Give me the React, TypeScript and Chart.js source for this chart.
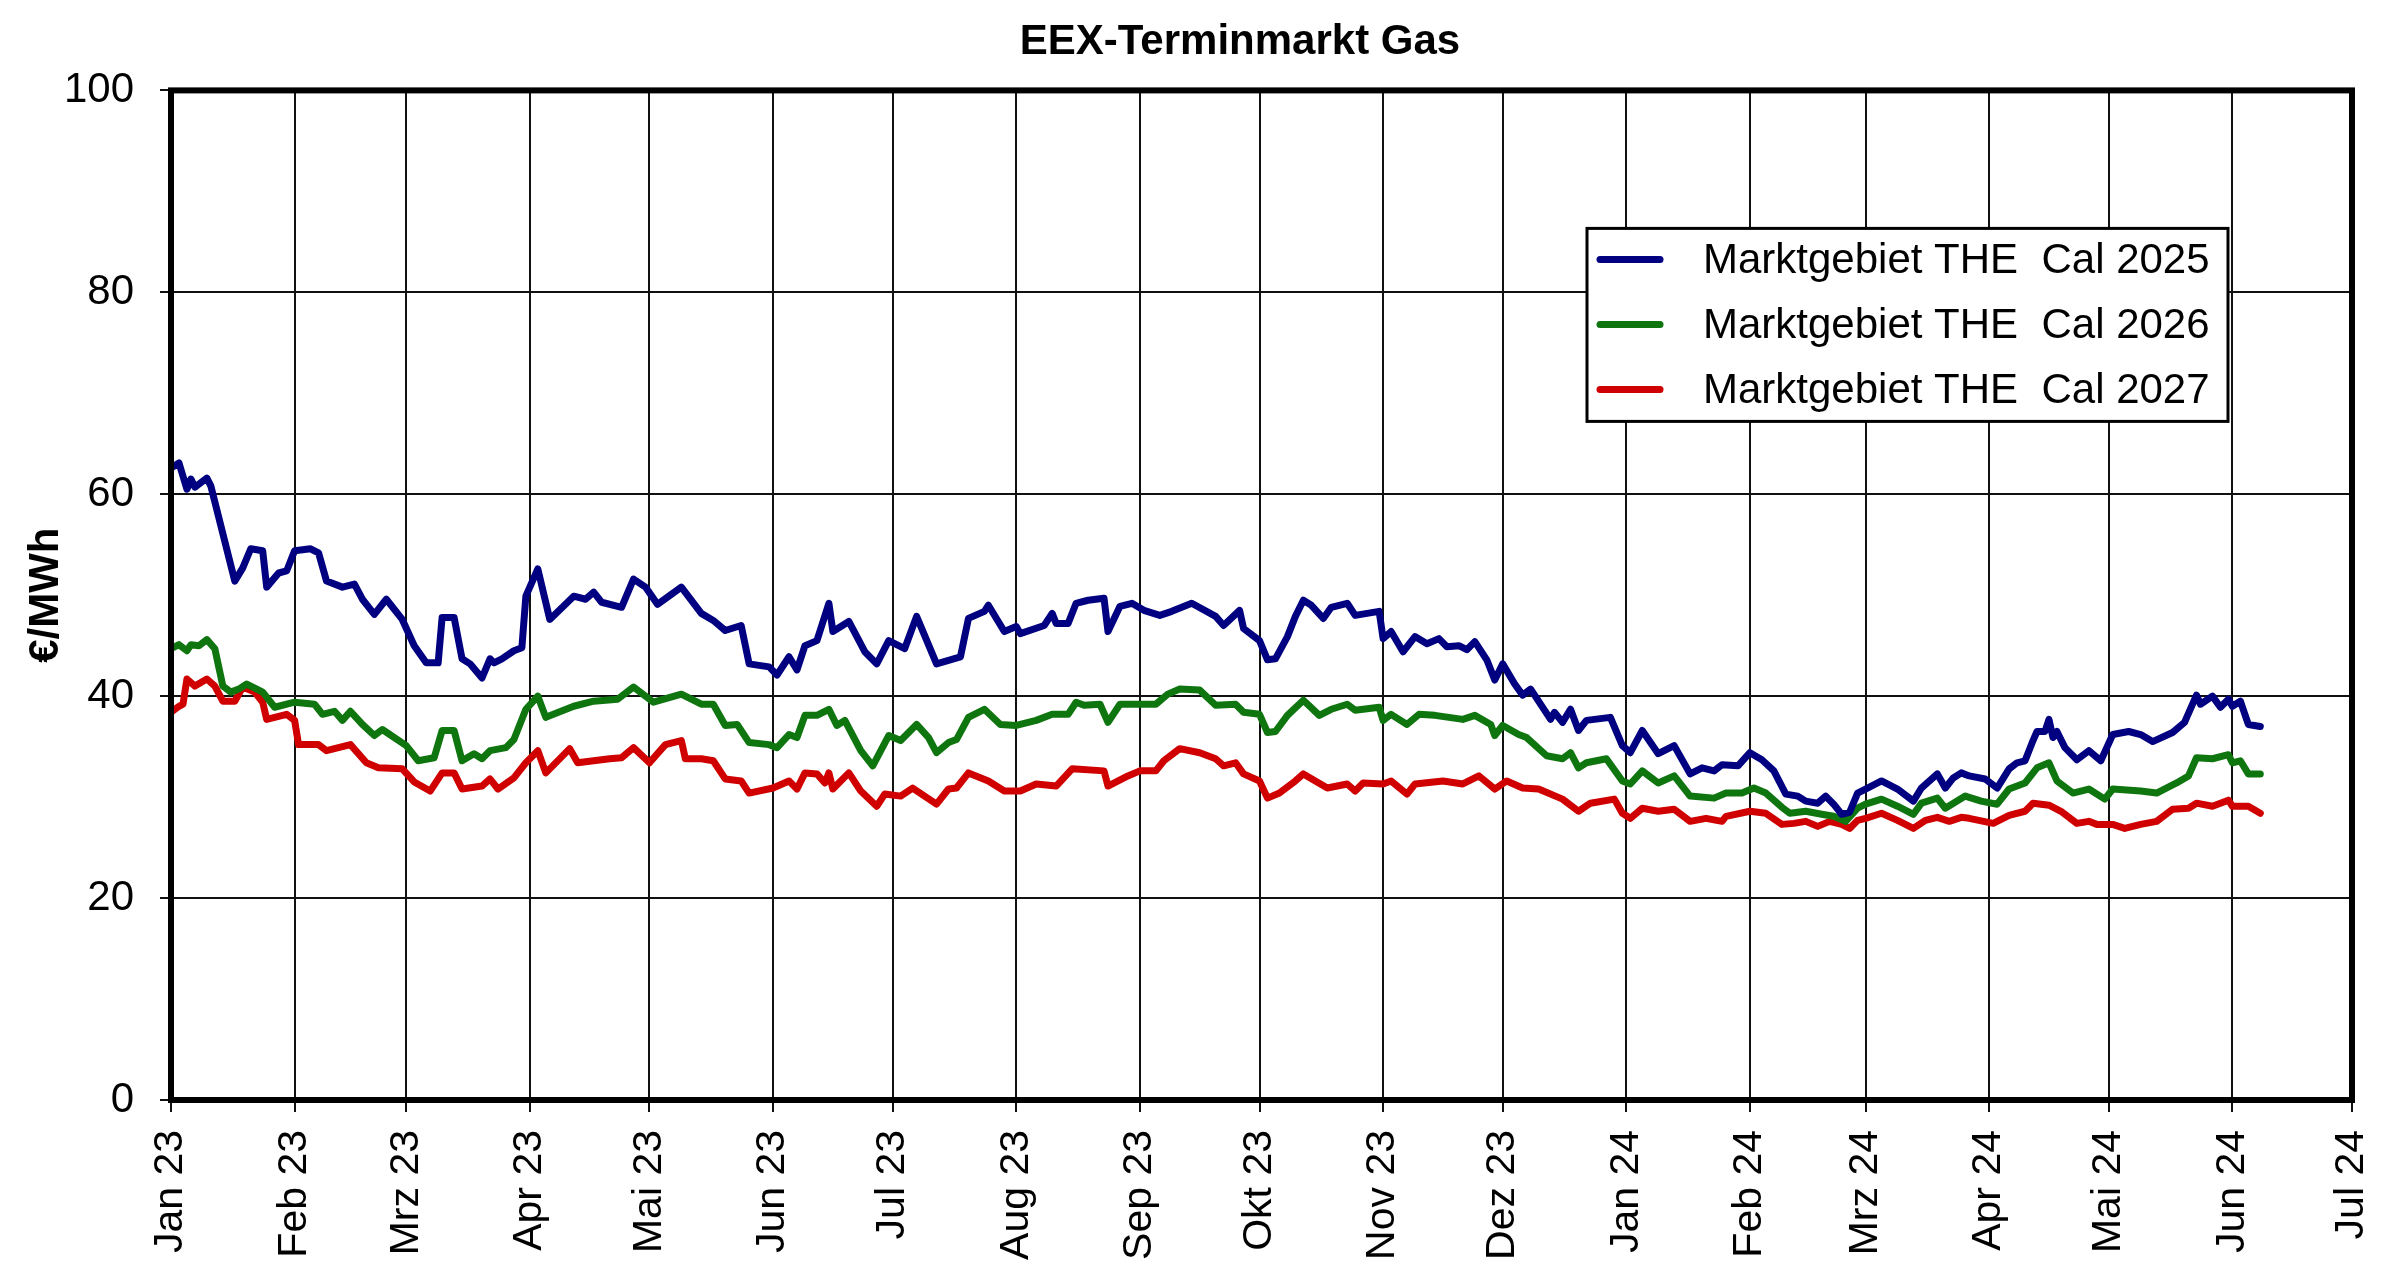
import { useEffect, useRef } from 'react'
import { Chart, ChartConfiguration, Plugin, registerables } from 'chart.js'

Chart.register(...registerables)

const FONT = '"Liberation Sans", Arial, sans-serif'

// x axis: days since 1 Jan 2023
const monthStarts = [0, 31, 59, 90, 120, 151, 181, 212, 243, 273, 304, 334, 365, 396, 425, 456, 486, 517, 547]
const monthLabels = [
  'Jan 23', 'Feb 23', 'Mrz 23', 'Apr 23', 'Mai 23', 'Jun 23', 'Jul 23', 'Aug 23', 'Sep 23',
  'Okt 23', 'Nov 23', 'Dez 23', 'Jan 24', 'Feb 24', 'Mrz 24', 'Apr 24', 'Mai 24', 'Jun 24', 'Jul 24',
]

const seriesLabels = [
  'Marktgebiet THE  Cal 2025',
  'Marktgebiet THE  Cal 2026',
  'Marktgebiet THE  Cal 2027',
]
const seriesColors = ['#000080', '#0f750f', '#d00000']

const cal2025Days = [
  0, 2, 4, 5, 6, 9, 10, 16, 18, 20, 23, 24, 27, 29, 31, 35, 37, 39, 43, 46, 48, 51, 54, 58, 61, 64, 67, 68,
  71, 73, 75, 78, 80, 81, 83, 86, 88, 89, 92, 95, 101, 104, 106, 108, 113, 116, 119, 122, 128, 133, 136,
  139, 143, 145, 150, 152, 155, 157, 159, 162, 165, 166, 170, 174, 177, 180, 184, 187, 192, 198, 200, 204,
  205, 209, 212, 213, 219, 221, 222, 225, 227, 230, 234, 235, 238, 241, 244, 248, 251, 256, 262, 264, 268,
  269, 273, 275, 277, 280, 282, 284, 286, 289, 291, 295, 297, 303, 304, 306, 309, 312, 315, 318, 320, 323,
  325, 327, 330, 332, 334, 337, 339, 341, 346, 347, 349, 351, 353, 355, 361, 364, 366, 369, 373, 377, 381,
  384, 387, 389, 393, 396, 399, 402, 405, 408, 410, 413, 415, 417, 419, 421, 423, 425, 429, 433, 437, 439,
  443, 445, 447, 449, 451, 455, 458, 461, 463, 465, 467, 468, 470, 471, 472, 473, 475, 478, 481, 484, 487,
  491, 494, 497, 502, 505, 508, 509, 512, 514, 516, 517, 519, 521, 524,
]
const cal2025 = [
  62.6, 63.1, 60.5, 61.5, 60.7, 61.6, 60.8, 51.4, 52.7, 54.6, 54.4, 50.8, 52.2, 52.4, 54.4, 54.6, 54.2,
  51.4, 50.8, 51.1, 49.6, 48.1, 49.6, 47.6, 45.0, 43.3, 43.3, 47.8, 47.8, 43.7, 43.2, 41.8, 43.7, 43.3,
  43.7, 44.5, 44.8, 49.9, 52.6, 47.6, 49.9, 49.6, 50.3, 49.3, 48.8, 51.6, 50.8, 49.1, 50.8, 48.2, 47.5,
  46.5, 47.0, 43.2, 42.9, 42.1, 43.9, 42.6, 45.0, 45.5, 49.2, 46.4, 47.4, 44.4, 43.2, 45.5, 44.7, 47.9,
  43.2, 43.9, 47.7, 48.4, 49.0, 46.4, 46.9, 46.2, 47.0, 48.2, 47.2, 47.2, 49.2, 49.5, 49.7, 46.4, 48.9,
  49.2, 48.5, 48.0, 48.4, 49.2, 47.9, 47.0, 48.5, 46.7, 45.5, 43.6, 43.7, 45.9, 47.9, 49.5, 49.0, 47.7,
  48.8, 49.2, 48.0, 48.4, 45.7, 46.4, 44.4, 45.9, 45.2, 45.7, 44.9, 45.0, 44.6, 45.4, 43.6, 41.6, 43.2,
  41.2, 40.1, 40.7, 37.7, 38.4, 37.4, 38.7, 36.6, 37.6, 37.9, 35.1, 34.4, 36.6, 34.3, 35.1, 32.3, 32.9,
  32.6, 33.2, 33.1, 34.4, 33.7, 32.6, 30.3, 30.1, 29.6, 29.4, 30.1, 29.3, 28.3, 28.5, 30.4, 30.8, 31.6,
  30.8, 29.6, 30.9, 32.3, 30.9, 31.9, 32.4, 32.1, 31.8, 30.9, 32.8, 33.4, 33.6, 35.6, 36.5, 36.5, 37.7,
  35.9, 36.5, 34.9, 33.7, 34.6, 33.6, 36.2, 36.5, 36.2, 35.5, 36.4, 37.4, 40.1, 39.2, 40.0, 38.9, 39.7,
  39.0, 39.5, 37.2, 37.0,
]

const cal2026Days = [
  0, 2, 4, 5, 7, 9, 11, 13, 15, 17, 19, 23, 26, 31, 36, 38, 41, 43, 45, 48, 51, 53, 59, 62, 66, 68, 71, 73,
  76, 78, 80, 84, 86, 89, 92, 94, 101, 106, 112, 116, 121, 128, 133, 136, 139, 142, 145, 150, 152, 155,
  157, 159, 162, 165, 167, 169, 173, 176, 180, 183, 187, 190, 192, 195, 197, 200, 204, 208, 212, 217, 221,
  225, 227, 229, 233, 235, 238, 243, 247, 250, 253, 258, 262, 267, 269, 273, 275, 277, 280, 284, 288, 291,
  295, 297, 303, 304, 306, 310, 313, 317, 324, 327, 331, 332, 334, 338, 340, 345, 349, 351, 353, 355, 360,
  364, 366, 369, 373, 377, 381, 387, 390, 394, 397, 400, 404, 406, 410, 414, 417, 420, 423, 425, 429, 433,
  437, 439, 443, 445, 450, 454, 458, 461, 465, 468, 471, 473, 477, 481, 485, 487, 494, 498, 503, 506, 508,
  512, 516, 517, 519, 521, 524,
]
const cal2026 = [
  44.7, 45.1, 44.5, 45.1, 45.0, 45.6, 44.7, 41.0, 40.4, 40.7, 41.2, 40.4, 38.9, 39.4, 39.2, 38.2, 38.5,
  37.6, 38.5, 37.2, 36.1, 36.7, 35.1, 33.6, 33.9, 36.6, 36.6, 33.6, 34.3, 33.8, 34.6, 34.9, 35.7, 38.7,
  40.0, 37.9, 39.0, 39.5, 39.7, 40.9, 39.4, 40.2, 39.2, 39.2, 37.1, 37.2, 35.4, 35.2, 34.9, 36.2, 35.9,
  38.1, 38.1, 38.7, 37.1, 37.6, 34.6, 33.1, 36.1, 35.6, 37.2, 35.9, 34.4, 35.4, 35.7, 37.9, 38.7, 37.2,
  37.1, 37.6, 38.2, 38.2, 39.4, 39.1, 39.2, 37.4, 39.2, 39.2, 39.2, 40.2, 40.7, 40.6, 39.1, 39.2, 38.4,
  38.2, 36.4, 36.5, 38.1, 39.6, 38.1, 38.7, 39.2, 38.6, 38.9, 37.6, 38.2, 37.2, 38.2, 38.1, 37.7, 38.1,
  37.2, 36.1, 37.1, 36.2, 35.9, 34.1, 33.8, 34.4, 32.9, 33.4, 33.8, 31.6, 31.3, 32.6, 31.4, 32.1, 30.1,
  29.9, 30.4, 30.4, 30.9, 30.4, 29.0, 28.4, 28.6, 28.3, 28.1, 27.6, 28.9, 29.3, 29.8, 29.1, 28.3, 29.4,
  29.9, 28.9, 30.1, 29.6, 29.3, 30.8, 31.4, 32.9, 33.4, 31.6, 30.4, 30.8, 29.8, 30.8, 30.6, 30.4, 31.4,
  32.1, 33.9, 33.8, 34.2, 33.4, 33.6, 32.3, 32.3,
]

const cal2027Days = [
  0, 2, 3, 4, 6, 9, 11, 13, 16, 18, 21, 23, 24, 29, 31, 32, 37, 39, 45, 49, 52, 58, 61, 65, 68, 71, 73, 78,
  80, 82, 86, 89, 92, 94, 100, 102, 110, 113, 116, 120, 124, 128, 129, 133, 136, 139, 143, 145, 151, 155,
  157, 159, 162, 164, 165, 166, 170, 173, 177, 179, 183, 186, 189, 192, 195, 197, 200, 205, 209, 213, 217,
  222, 226, 234, 235, 240, 243, 247, 249, 253, 258, 262, 264, 267, 269, 273, 275, 278, 282, 284, 290, 295,
  297, 299, 304, 306, 310, 312, 319, 324, 328, 332, 335, 339, 343, 349, 353, 356, 362, 364, 366, 369, 373,
  377, 381, 385, 389, 390, 396, 400, 404, 407, 410, 413, 416, 419, 421, 423, 425, 429, 433, 437, 440, 443,
  446, 449, 451, 457, 461, 465, 467, 471, 474, 478, 481, 483, 487, 490, 494, 498, 502, 506, 508, 512, 516,
  517, 521, 524,
]
const cal2027 = [
  38.4, 39.0, 39.2, 41.7, 41.0, 41.7, 41.0, 39.5, 39.5, 40.9, 40.4, 39.4, 37.7, 38.2, 37.6, 35.2, 35.2,
  34.6, 35.2, 33.4, 32.9, 32.8, 31.5, 30.6, 32.4, 32.4, 30.8, 31.1, 31.8, 30.8, 31.9, 33.4, 34.6, 32.4,
  34.8, 33.4, 33.8, 33.9, 34.9, 33.4, 35.2, 35.6, 33.8, 33.8, 33.6, 31.8, 31.6, 30.4, 30.9, 31.6, 30.8,
  32.4, 32.3, 31.4, 32.4, 30.8, 32.4, 30.6, 29.1, 30.3, 30.1, 30.9, 30.1, 29.3, 30.8, 30.9, 32.4, 31.6,
  30.6, 30.6, 31.3, 31.1, 32.8, 32.6, 31.1, 32.1, 32.6, 32.6, 33.6, 34.8, 34.4, 33.8, 33.1, 33.4, 32.3,
  31.6, 29.9, 30.4, 31.6, 32.3, 30.9, 31.3, 30.6, 31.4, 31.3, 31.6, 30.3, 31.3, 31.6, 31.3, 32.1, 30.8,
  31.6, 30.9, 30.8, 29.8, 28.6, 29.4, 29.8, 28.4, 27.9, 28.9, 28.6, 28.8, 27.6, 27.9, 27.6, 28.1, 28.6,
  28.4, 27.3, 27.4, 27.6, 27.1, 27.6, 27.3, 26.9, 27.7, 27.9, 28.4, 27.7, 26.9, 27.7, 28.0, 27.6, 28.0,
  27.9, 27.4, 28.2, 28.6, 29.4, 29.2, 28.6, 27.4, 27.6, 27.3, 27.3, 26.9, 27.3, 27.6, 28.8, 28.9, 29.4,
  29.1, 29.7, 29.1, 29.1, 28.4,
]

const toPoints = (days: number[], values: number[]) => days.map((d, i) => ({ x: d, y: values[i] }))

// legend box drawn inside the plot, plus the heavy frame round the plot area
const frameAndLegend: Plugin = {
  id: 'frameAndLegend',
  afterDraw(chart) {
    const { ctx, chartArea } = chart
    ctx.save()
    ctx.strokeStyle = '#000'
    ctx.lineWidth = 6
    ctx.strokeRect(chartArea.left, chartArea.top, chartArea.right - chartArea.left, chartArea.bottom - chartArea.top)

    const x = chartArea.right - 765
    const y = chartArea.top + 138
    ctx.fillStyle = '#fff'
    ctx.fillRect(x, y, 641, 193)
    ctx.lineWidth = 3
    ctx.strokeRect(x, y, 641, 193)

    ctx.font = `42px ${FONT}`
    ctx.textBaseline = 'middle'
    ctx.textAlign = 'left'
    chart.data.datasets.forEach((ds, i) => {
      const rowY = y + 31 + i * 65
      ctx.strokeStyle = ds.borderColor as string
      ctx.lineWidth = 7
      ctx.lineCap = 'round'
      ctx.beginPath()
      ctx.moveTo(x + 13, rowY)
      ctx.lineTo(x + 73, rowY)
      ctx.stroke()
      ctx.fillStyle = '#000'
      ctx.fillText(ds.label ?? '', x + 116, rowY + 2)
    })
    ctx.restore()
  },
}

// the title in the reference sits a little right of the canvas centre
const shiftTitle: Plugin = {
  id: 'shiftTitle',
  afterLayout(chart) {
    const t = (chart as any).titleBlock
    if (t) {
      t.left += 64
      t.right += 64
    }
  },
}

export default function App() {
  const canvasRef = useRef<HTMLCanvasElement>(null)

  useEffect(() => {
    if (!canvasRef.current) return
    const ctx = canvasRef.current.getContext('2d')
    if (!ctx) return

    const series = [
      toPoints(cal2025Days, cal2025),
      toPoints(cal2026Days, cal2026),
      toPoints(cal2027Days, cal2027),
    ]

    const config: ChartConfiguration<'line', { x: number, y: number }[]> = {
      type: 'line',
      data: {
        datasets: series.map((data, i) => ({
          label: seriesLabels[i],
          data,
          borderColor: seriesColors[i],
          backgroundColor: seriesColors[i],
          borderWidth: 7,
          pointRadius: 0,
          tension: 0,
          borderJoinStyle: 'round',
          borderCapStyle: 'round',
        })),
      },
      options: {
        animation: false,
        responsive: true,
        maintainAspectRatio: false,
        layout: { padding: { left: 0, right: 48, top: 0, bottom: 0 } },
        plugins: {
          legend: { display: false },
          tooltip: { enabled: false },
          title: {
            display: true,
            text: 'EEX-Terminmarkt Gas',
            color: '#000',
            font: { family: FONT, size: 42, weight: 'bold', lineHeight: 1.2 },
            padding: { top: 17, bottom: 23 },
          },
        },
        scales: {
          x: {
            type: 'linear',
            min: 0,
            max: 547,
            afterFit: (scale) => {
              scale.height = 172
              // the rotated end labels should not push the plot edges in
              scale.paddingLeft = 0
              scale.paddingRight = 0
            },
            afterBuildTicks: (scale) => { scale.ticks = monthStarts.map(v => ({ value: v })) },
            ticks: {
              autoSkip: false,
              minRotation: 90,
              maxRotation: 90,
              padding: 18,
              color: '#000',
              font: { family: FONT, size: 41 },
              callback: (_v, i) => monthLabels[i],
            },
            grid: { color: '#111', lineWidth: 2, tickLength: 12, drawTicks: true },
            border: { display: false },
          },
          y: {
            min: 0,
            max: 100,
            afterFit: (scale) => { scale.width = 171 },
            ticks: {
              stepSize: 20,
              padding: 26,
              color: '#000',
              font: { family: FONT, size: 42 },
            },
            grid: { color: '#111', lineWidth: 2, tickLength: 11, drawTicks: true },
            border: { display: false },
            title: {
              display: true,
              text: '€/MWh',
              color: '#000',
              font: { family: FONT, size: 42, weight: 'bold', lineHeight: 1.2 },
              padding: { top: 21, bottom: 0 },
            },
          },
        },
      },
      plugins: [frameAndLegend, shiftTitle],
    }

    const chart = new Chart(ctx, config)
    return () => chart.destroy()
  }, [])

  return (
    <div style={{ position: 'absolute', left: 0, top: 0, width: 2400, height: 1272, background: '#fff' }}>
      <canvas ref={canvasRef} />
    </div>
  )
}
